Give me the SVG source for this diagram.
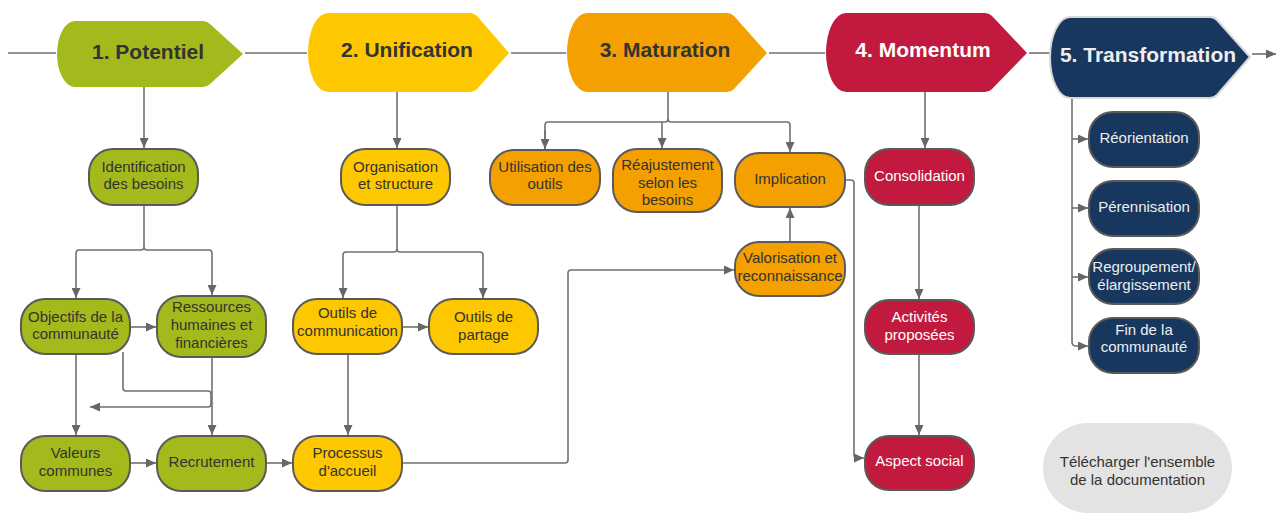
<svg xmlns="http://www.w3.org/2000/svg" width="1276" height="514" viewBox="0 0 1276 514">
<defs>
<marker id="ah" markerUnits="userSpaceOnUse" markerWidth="10" markerHeight="9" refX="10" refY="4.5" orient="auto">
<path d="M0,0 L10,4.5 L0,9 Z" fill="#666"/>
</marker>
<style>
.c{fill:none;stroke:#707070;stroke-width:1.6;stroke-linejoin:round}
.a{marker-end:url(#ah)}
.n rect{stroke:#5a5a5a;stroke-width:2}
.t{font-family:"Liberation Sans",Arial,sans-serif;font-size:15px;text-anchor:middle;fill:#333}
.w{fill:#fff}
.s{fill:#eee}
.h{font-family:"Liberation Sans",Arial,sans-serif;font-size:21px;font-weight:bold;text-anchor:middle;fill:#333}
.g{fill:#a4b91b}.y{fill:#fdc800}.o{fill:#f3a000}.r{fill:#c21a3e}.b{fill:#17375e}
</style>
</defs>
<rect width="1276" height="514" fill="#fff"/>
<g id="connectors">
<path class="c" d="M8,53 H56"/>
<path class="c" d="M245,53 H307"/>
<path class="c" d="M511,53 H566"/>
<path class="c" d="M769,53 H825"/>
<path class="c" d="M1029,53 H1050"/>
<path class="c a" d="M1252,54 H1276"/>
<path class="c a" d="M144,87 V148"/>
<path class="c a" d="M144,205 V247 Q144,250 141,250 H79 Q76,250 76,253 V298"/>
<path class="c a" d="M144,247 Q144,250 147,250 H209 Q212,250 212,253 V295"/>
<path class="c a" d="M130,327 H156"/>
<path class="c a" d="M76,354 V435"/>
<path class="c a" d="M212,357 V435"/>
<path class="c a" d="M123,352 V388 Q123,391 126,391 H208 Q211,391 211,394 V404 Q211,407 208,407 H90"/>
<path class="c a" d="M130,463 H156"/>
<path class="c a" d="M266,463 H292"/>
<path class="c a" d="M397,92 V148"/>
<path class="c a" d="M397,205 V249 Q397,252 394,252 H346 Q343,252 343,255 V298"/>
<path class="c a" d="M397,249 Q397,252 400,252 H480 Q483,252 483,255 V298"/>
<path class="c a" d="M402,327 H428"/>
<path class="c a" d="M348,354 V435"/>
<path class="c a" d="M402,463 H565 Q568,463 568,460 V273 Q568,270 571,270 H734"/>
<path class="c" d="M668,92 V119 Q668,122 665,122 H548 Q545,122 545,125 V149"/>
<path class="c a" d="M545,130 V149"/>
<path class="c a" d="M668,119 Q668,122 671,122 H787 Q790,122 790,125 V152"/>
<path class="c a" d="M662,122 V148"/>
<path class="c a" d="M790,242 V208"/>
<path class="c a" d="M845,180 H851 Q854,180 854,183 V455 Q854,458 857,458 H864"/>
<path class="c a" d="M925,92 V148"/>
<path class="c a" d="M919,205 V299"/>
<path class="c a" d="M919,354 V435"/>
<path class="c a" d="M1072,98 V342 Q1072,346 1076,346 H1088"/>
<path class="c a" d="M1072,139 H1088"/>
<path class="c a" d="M1072,208 H1088"/>
<path class="c a" d="M1072,277 H1088"/>
</g>
<g id="h1"><path class="g" d="M75,21 H203 Q207,21 210,24 L243,54 L210,84 Q207,87 203,87 H75 A18,33 0 0 1 75,21 Z"/><text class="h" x="148" y="59">1. Potentiel</text></g>
<g id="h2"><path class="y" d="M328,13 H470 Q474,13 477,16 L509,53 L477,89 Q474,92 470,92 H328 A20,39.5 0 0 1 328,13 Z"/><text class="h" x="407" y="57">2. Unification</text></g>
<g id="h3"><path class="o" d="M587,13 H727 Q731,13 734,16 L767,53 L734,89 Q731,92 727,92 H587 A20,39.5 0 0 1 587,13 Z"/><text class="h" x="665" y="57">3. Maturation</text></g>
<g id="h4"><path class="r" d="M846,13 H985 Q989,13 992,16 L1027,53 L992,89 Q989,92 985,92 H846 A20,39.5 0 0 1 846,13 Z"/><text class="h" x="923" y="57" style="fill:#fff">4. Momentum</text></g>
<g id="h5"><path class="b" stroke="#d8d8d8" stroke-width="2" d="M1070,17 H1210 Q1214,17 1217,20 L1250,57 L1217,95 Q1214,98 1210,98 H1070 A20,40.5 0 0 1 1070,17 Z"/><text class="h" x="1148" y="62" style="fill:#eee">5. Transformation</text></g>

<g id="ident" class="n"><rect class="g" x="89" y="149" width="109" height="56" rx="24"/><text class="t" x="143.5" y="172">Identification</text><text class="t" x="143.5" y="189">des besoins</text></g>
<g id="objectifs" class="n"><rect class="g" x="21" y="299" width="109" height="55" rx="24"/><text class="t" x="75.5" y="322">Objectifs de la</text><text class="t" x="75.5" y="339">communauté</text></g>
<g id="ressources" class="n"><rect class="g" x="157" y="296" width="109" height="61" rx="24"/><text class="t" x="211.5" y="312">Ressources</text><text class="t" x="211.5" y="330">humaines et</text><text class="t" x="211.5" y="348">financières</text></g>
<g id="valeurs" class="n"><rect class="g" x="21" y="436" width="109" height="55" rx="24"/><text class="t" x="75.5" y="458">Valeurs</text><text class="t" x="75.5" y="476">communes</text></g>
<g id="recrutement" class="n"><rect class="g" x="157" y="436" width="109" height="55" rx="24"/><text class="t" x="211.5" y="467">Recrutement</text></g>

<g id="organisation" class="n"><rect class="y" x="341" y="149" width="109" height="56" rx="24"/><text class="t" x="395.5" y="172">Organisation</text><text class="t" x="395.5" y="189">et structure</text></g>
<g id="communication" class="n"><rect class="y" x="293" y="299" width="109" height="55" rx="24"/><text class="t" x="347.5" y="318">Outils de</text><text class="t" x="347.5" y="336">communication</text></g>
<g id="partage" class="n"><rect class="y" x="429" y="299" width="109" height="55" rx="24"/><text class="t" x="483.5" y="322">Outils de</text><text class="t" x="483.5" y="340">partage</text></g>
<g id="processus" class="n"><rect class="y" x="293" y="436" width="109" height="55" rx="24"/><text class="t" x="347.5" y="458">Processus</text><text class="t" x="347.5" y="476">d'accueil</text></g>

<g id="utilisation" class="n"><rect class="o" x="490" y="150" width="110" height="55" rx="24"/><text class="t" x="545" y="172">Utilisation des</text><text class="t" x="545" y="189">outils</text></g>
<g id="reajustement" class="n"><rect class="o" x="613" y="149" width="109" height="63" rx="24"/><text class="t" x="667.5" y="170">Réajustement</text><text class="t" x="667.5" y="188">selon les</text><text class="t" x="667.5" y="205">besoins</text></g>
<g id="implication" class="n"><rect class="o" x="735" y="153" width="110" height="54" rx="24"/><text class="t" x="790" y="184">Implication</text></g>
<g id="valorisation" class="n"><rect class="o" x="735" y="242" width="110" height="54" rx="24"/><text class="t" x="790" y="263">Valorisation et</text><text class="t" x="790" y="281">reconnaissance</text></g>

<g id="consolidation" class="n"><rect class="r" x="865" y="149" width="109" height="56" rx="24"/><text class="t w" x="919.5" y="181">Consolidation</text></g>
<g id="activites" class="n"><rect class="r" x="865" y="300" width="109" height="54" rx="24"/><text class="t w" x="919.5" y="322">Activités</text><text class="t w" x="919.5" y="340">proposées</text></g>
<g id="aspect" class="n"><rect class="r" x="865" y="436" width="109" height="54" rx="24"/><text class="t w" x="919.5" y="466">Aspect social</text></g>

<g id="reorientation" class="n"><rect class="b" x="1089" y="112" width="110" height="55" rx="24"/><text class="t s" x="1144" y="143">Réorientation</text></g>
<g id="perennisation" class="n"><rect class="b" x="1089" y="181" width="110" height="55" rx="24"/><text class="t s" x="1144" y="212">Pérennisation</text></g>
<g id="regroupement" class="n"><rect class="b" x="1089" y="249" width="110" height="55" rx="24"/><text class="t s" x="1144" y="272">Regroupement/</text><text class="t s" x="1144" y="290">élargissement</text></g>
<g id="fin" class="n"><rect class="b" x="1089" y="318" width="110" height="55" rx="24"/><text class="t s" x="1144" y="335">Fin de la</text><text class="t s" x="1144" y="352">communauté</text></g>

<g id="telecharger"><rect x="1043" y="423" width="189" height="90" rx="45" fill="#e3e3e3"/><text class="t" x="1137.5" y="467">Télécharger l'ensemble</text><text class="t" x="1137.5" y="485">de la documentation</text></g>
</svg>
